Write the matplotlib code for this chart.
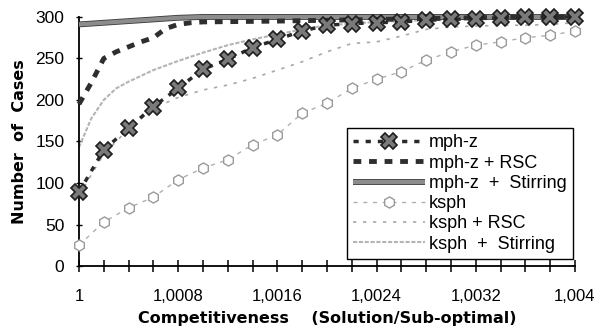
import matplotlib
matplotlib.use("Agg")
import matplotlib.pyplot as plt
import matplotlib.patheffects as pe
import numpy as np

plt.rcParams['font.family'] = ['Liberation Sans', 'DejaVu Sans']

# x positions (competitiveness ratio)
x_coarse = [1.0000, 1.0002, 1.0004, 1.0006, 1.0008, 1.0010, 1.0012, 1.0014,
            1.0016, 1.0018, 1.0020, 1.0022, 1.0024, 1.0026, 1.0028, 1.0030,
            1.0032, 1.0034, 1.0036, 1.0038, 1.0040]

mph_z = [89, 140, 166, 192, 214, 237, 249, 263, 273, 283, 290,
         292, 293, 294, 296, 297, 298, 299, 300, 300, 300]

x_rsc = [1.0000, 1.0001, 1.0002, 1.0003, 1.0004, 1.0005, 1.0006, 1.0007,
         1.0008, 1.0009, 1.0010, 1.0016, 1.0020, 1.0024, 1.0028, 1.0032,
         1.0036, 1.0040]
mph_z_rsc = [195, 221, 250, 258, 264, 270, 275, 286, 291, 293, 294,
             295, 296, 297, 298, 299, 300, 300]

x_stir = [1.0000, 1.0002, 1.0004, 1.0006, 1.0008, 1.0010, 1.0040]
mph_z_stirring = [291, 293, 295, 297, 299, 300, 300]

ksph = [25, 53, 70, 83, 104, 118, 128, 146, 158, 184, 196,
        214, 225, 234, 248, 258, 266, 270, 275, 278, 283]

ksph_rsc = [85, 135, 165, 190, 203, 212, 218, 226, 236, 246, 258,
            268, 270, 277, 285, 288, 289, 290, 290, 291, 293]

x_kstir = [1.0000, 1.0001, 1.0002, 1.0003, 1.0004, 1.0005, 1.0006, 1.0008,
           1.0010, 1.0012, 1.0014, 1.0016, 1.0018, 1.0020, 1.0024, 1.0028,
           1.0032, 1.0036, 1.0040]
ksph_stirring = [143, 178, 200, 214, 222, 229, 236, 247, 257, 266, 273,
                 279, 285, 290, 294, 296, 298, 299, 300]

tick_positions = [1.0, 1.0008, 1.0016, 1.0024, 1.0032, 1.004]
tick_labels = ["1", "1,0008", "1,0016", "1,0024", "1,0032", "1,004"]

fig = plt.figure(figsize=(5.97, 3.26), dpi=100)
ax = fig.add_axes([0.1323, 0.184, 0.8307, 0.764])

ax.plot(x_kstir, ksph_stirring, color='#b4b4b4', lw=1.5,
        linestyle=(0, (2, 0.8)), label='ksph  +  Stirring', zorder=2,
        clip_on=False)
ax.plot(x_coarse, ksph_rsc, color='#a8a8a8', lw=1.2,
        linestyle=(0, (2, 4)), label='ksph + RSC', zorder=2, clip_on=False)
ax.plot(x_coarse, ksph, color='#b0b0b0', lw=1.0, linestyle=(0, (3, 4)),
        marker='h', markersize=8, markerfacecolor='white',
        markeredgecolor='#9a9a9a', markeredgewidth=1.0,
        label='ksph', zorder=3, clip_on=False)
ax.plot(x_stir, mph_z_stirring, color='#8c8c8c', lw=3.0,
        solid_capstyle='butt', label='mph-z  +  Stirring', zorder=4,
        clip_on=False,
        path_effects=[pe.Stroke(linewidth=4.2, foreground='#3a3a3a'),
                      pe.Normal()])
ax.plot(x_rsc, mph_z_rsc, color='#2e2e2e', lw=3.5,
        linestyle=(0, (1.6, 1.6)), label='mph-z + RSC', zorder=5,
        clip_on=False)
ax.plot(x_coarse, mph_z, color='#2a2a2a', lw=2.5,
        linestyle=(0, (1.5, 2.0)), marker='X', markersize=12,
        markerfacecolor='#7a7a7a', markeredgecolor='#1e1e1e',
        markeredgewidth=1.2, label='mph-z', zorder=6, clip_on=False)

ax.set_xlim(1.0, 1.004)
ax.set_ylim(0, 300)

ax.spines['top'].set_visible(False)
ax.spines['right'].set_visible(False)
ax.spines['left'].set_linewidth(1.3)
ax.spines['bottom'].set_linewidth(1.3)

ax.set_xticks(tick_positions)
ax.set_xticklabels(tick_labels)
ax.set_xticks(np.arange(0, 21) * 0.0002 + 1.0, minor=True)
ax.tick_params(axis='x', which='both', direction='inout', length=9,
               width=1.1, labelsize=12, pad=12)
ax.set_yticks([0, 50, 100, 150, 200, 250, 300])
ax.tick_params(axis='y', direction='inout', length=5, width=1.0,
               labelsize=12.5, pad=8)

ax.set_xlabel("Competitiveness    (Solution/Sub-optimal)",
              fontsize=11.5, fontweight='bold', labelpad=5,
              family=['DejaVu Sans'])
ax.set_ylabel("Number  of  Cases", fontsize=11.5, fontweight='bold',
              labelpad=6, family=['DejaVu Sans'])

handles, labels = ax.get_legend_handles_labels()
order = ['mph-z', 'mph-z + RSC', 'mph-z  +  Stirring', 'ksph',
         'ksph + RSC', 'ksph  +  Stirring']
hl = dict(zip(labels, handles))
leg = ax.legend([hl[o] for o in order], order, loc='upper left',
                bbox_to_anchor=(0.581, 0.607), bbox_transform=fig.transFigure,
                fontsize=13, handlelength=4.0, handletextpad=0.2,
                labelspacing=0.18, borderpad=0.35, borderaxespad=0,
                numpoints=1, fancybox=False, framealpha=1,
                edgecolor='black')
leg.get_frame().set_linewidth(1.0)
leg.set_zorder(10)

fig.savefig("out.png", dpi=100)
